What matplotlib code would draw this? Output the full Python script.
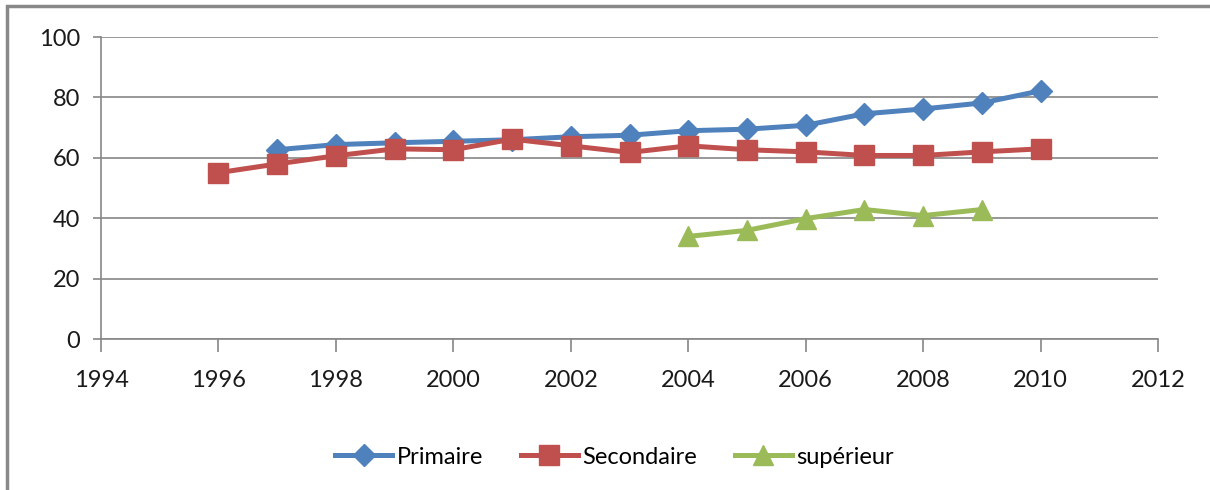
import matplotlib.pyplot as plt
from matplotlib.patches import Rectangle

# data
years_prim = [1997, 1998, 1999, 2000, 2001, 2002, 2003, 2004, 2005, 2006, 2007, 2008, 2009, 2010]
primaire = [62.7, 64.4, 65, 65.5, 66, 67, 67.5, 69, 69.5, 70.8, 74.6, 76.2, 78.2, 82.2]

years_sec = [1996, 1997, 1998, 1999, 2000, 2001, 2002, 2003, 2004, 2005, 2006, 2007, 2008, 2009, 2010]
secondaire = [55.1, 58, 60.7, 63, 62.7, 66.2, 64, 61.8, 64, 62.7, 62, 60.8, 60.8, 62, 63]

years_sup = [2004, 2005, 2006, 2007, 2008, 2009]
superieur = [34, 36, 39.9, 42.9, 40.9, 42.9]

xticks = list(range(1994, 2013, 2))
yticks = [0, 20, 40, 60, 80, 100]

plt.rcParams['font.family'] = ['Lato', 'DejaVu Sans']

fig = plt.figure(figsize=(12.1, 4.9), dpi=100)
ax = fig.add_axes([0.0835, 0.308, 0.8736, 0.6163])

# outer chart frame (clipped at the right/bottom in the reference)
fig.patches.append(Rectangle((7 / 1210, -0.1), 1.2, 1 - 6 / 490 + 0.1,
                             transform=fig.transFigure, fill=False,
                             edgecolor='#888888', linewidth=2.5))

lw = 3.6
ax.plot(years_prim, primaire, color='#4F81BD', lw=lw, marker='D', markersize=11,
        label='Primaire', zorder=3)
ax.plot(years_sec, secondaire, color='#C0504D', lw=lw, marker='s', markersize=14,
        label='Secondaire', zorder=4)
ax.plot(years_sup, superieur, color='#9BBB59', lw=lw, marker='^', markersize=14,
        label='supérieur', zorder=3)

ax.set_xlim(1994, 2012)
ax.set_ylim(0, 100)
ax.set_xticks(xticks)
ax.set_yticks(yticks)
ax.grid(axis='y', color='#868686', lw=1.2)
ax.set_axisbelow(True)
for s in ['top', 'right']:
    ax.spines[s].set_visible(False)
for s in ['left', 'bottom']:
    ax.spines[s].set_color('#868686')
    ax.spines[s].set_linewidth(1.2)
ax.tick_params(axis='both', colors='#868686', labelcolor='#1a1a1a', labelsize=17,
               width=1.2)
ax.tick_params(axis='y', length=6, pad=9)
ax.tick_params(axis='x', length=9, pad=13)

fig.legend(loc='center', bbox_to_anchor=(0.508, 0.067), ncol=3, frameon=False,
           fontsize=17, handlelength=2.4, columnspacing=1.6, handletextpad=0.2)

fig.savefig('out.png', dpi=100)
